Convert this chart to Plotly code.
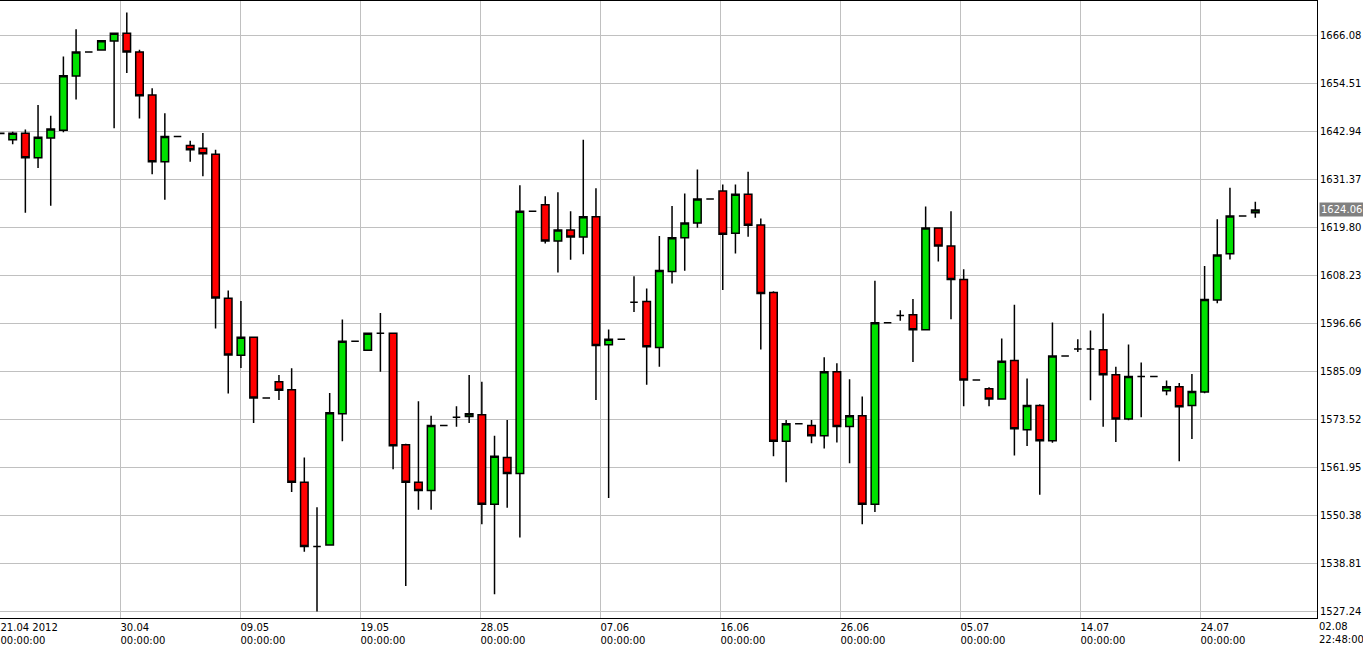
import plotly.graph_objects as go

opens = [1642.6, 1641.04, 1642.56, 1636.68, 1641.42, 1643.32, 1656.41, 1662.19, 1662.67, 1664.85,
         1666.74, 1662.19, 1651.85, 1635.73, 1641.80, 1639.62, 1638.96, 1637.53, 1602.73, 1588.97,
         1593.34, 1578.64, 1582.62, 1580.63, 1558.34, 1542.79, 1543.17, 1574.84, 1592.39, 1590.21,
         1594.29, 1594.29, 1567.35, 1558.34, 1556.35, 1572.00, 1573.99, 1574.18, 1574.65, 1553.03,
         1564.32, 1560.43, 1623.78, 1625.30, 1616.57, 1619.23, 1617.52, 1622.45, 1591.54, 1592.86,
         1601.78, 1601.97, 1590.87, 1609.18, 1617.33, 1620.94, 1626.72, 1628.62, 1618.47, 1627.86,
         1620.46, 1604.15, 1568.21, 1572.47, 1572.00, 1569.53, 1585.00, 1571.81, 1574.37, 1553.03,
         1596.85, 1598.56, 1598.74, 1595.14, 1619.70, 1615.34, 1607.28, 1583.00, 1580.91, 1578.45,
         1587.72, 1571.03, 1576.86, 1568.36, 1588.81, 1590.49, 1590.49, 1590.29, 1584.27, 1573.59,
         1583.87, 1583.87, 1580.41, 1581.40, 1576.86, 1580.12, 1602.35, 1613.51, 1622.60, 1623.40]
highs = [1642.75, 1642.94, 1643.51, 1649.39, 1646.83, 1661.15, 1667.69, 1662.30, 1664.94, 1666.74,
         1671.77, 1662.76, 1653.47, 1647.40, 1641.80, 1640.76, 1642.66, 1638.58, 1604.62, 1602.06,
         1593.34, 1578.64, 1584.23, 1585.84, 1564.32, 1552.27, 1579.87, 1597.61, 1592.39, 1594.29,
         1599.22, 1594.29, 1567.64, 1577.88, 1574.37, 1572.00, 1576.65, 1584.23, 1582.62, 1569.53,
         1573.33, 1630.04, 1623.78, 1627.39, 1628.33, 1623.78, 1641.04, 1629.28, 1595.23, 1592.86,
         1608.04, 1605.10, 1617.81, 1625.01, 1628.05, 1633.83, 1626.72, 1630.23, 1630.23, 1633.27,
         1621.98, 1604.43, 1573.33, 1572.47, 1573.33, 1588.50, 1587.08, 1583.19, 1579.02, 1607.00,
         1596.85, 1599.88, 1602.54, 1624.92, 1619.70, 1623.78, 1609.75, 1583.00, 1581.29, 1593.05,
         1601.16, 1583.38, 1577.15, 1596.91, 1588.81, 1592.86, 1594.94, 1599.09, 1586.24, 1591.58,
         1587.23, 1583.87, 1582.88, 1582.29, 1584.46, 1610.55, 1621.81, 1629.42, 1622.60, 1626.06]
lows = [1642.37, 1639.91, 1623.40, 1634.21, 1625.11, 1642.85, 1650.72, 1662.10, 1662.67, 1643.79,
        1657.16, 1646.16, 1632.70, 1626.53, 1641.80, 1635.73, 1632.22, 1595.42, 1579.78, 1585.94,
        1572.66, 1578.64, 1578.16, 1555.97, 1541.56, 1527.14, 1543.17, 1568.21, 1592.39, 1590.21,
        1585.00, 1561.47, 1533.30, 1551.70, 1551.70, 1572.00, 1571.72, 1572.66, 1548.19, 1531.31,
        1552.18, 1544.97, 1623.78, 1616.00, 1608.99, 1612.02, 1613.35, 1578.16, 1554.55, 1592.86,
        1599.41, 1581.86, 1586.22, 1606.33, 1609.37, 1619.80, 1626.72, 1604.72, 1613.54, 1617.62,
        1590.40, 1564.60, 1558.34, 1572.47, 1567.73, 1566.50, 1567.92, 1562.89, 1548.19, 1551.14,
        1596.85, 1597.32, 1587.36, 1595.14, 1611.64, 1597.70, 1576.65, 1583.00, 1576.65, 1578.45,
        1564.80, 1567.07, 1555.32, 1567.86, 1588.81, 1589.80, 1578.14, 1571.72, 1568.06, 1573.30,
        1573.99, 1583.87, 1579.33, 1563.42, 1568.75, 1579.82, 1601.56, 1612.13, 1622.60, 1622.21]
closes = [1642.5, 1642.56, 1636.68, 1641.61, 1643.60, 1656.50, 1662.19, 1662.19, 1664.94, 1666.74,
          1662.19, 1651.66, 1635.73, 1641.80, 1641.80, 1638.58, 1637.63, 1602.82, 1589.07, 1593.34,
          1578.64, 1578.64, 1580.53, 1558.34, 1542.79, 1542.79, 1575.13, 1592.39, 1592.39, 1594.29,
          1594.29, 1567.16, 1558.34, 1556.35, 1572.00, 1572.00, 1573.99, 1574.84, 1553.03, 1564.60,
          1560.43, 1623.78, 1623.78, 1616.57, 1619.23, 1617.52, 1622.45, 1591.35, 1592.86, 1592.86,
          1601.78, 1591.06, 1609.46, 1617.33, 1620.94, 1626.72, 1626.72, 1618.19, 1627.86, 1620.37,
          1603.87, 1568.21, 1572.47, 1572.47, 1569.53, 1585.00, 1571.81, 1574.37, 1553.03, 1596.85,
          1596.85, 1598.56, 1595.14, 1619.70, 1615.34, 1607.28, 1583.00, 1583.00, 1578.45, 1587.55,
          1571.22, 1576.86, 1568.36, 1588.81, 1588.81, 1590.49, 1590.49, 1584.27, 1573.59, 1583.87,
          1583.87, 1583.87, 1581.40, 1576.56, 1580.22, 1602.45, 1613.22, 1622.60, 1622.60, 1624.06]

date_labels = ["21.04 2012", "30.04", "09.05", "19.05", "28.05", "07.06",
               "16.06", "26.06", "05.07", "14.07", "24.07"]
price_ticks = [1527.24, 1538.81, 1550.38, 1561.95, 1573.52, 1585.09, 1596.66,
               1608.23, 1619.80, 1631.37, 1642.94, 1654.51, 1666.08]
last_price = 1624.06

# bars per date grid step
step = 120 / 12.68
xs = list(range(len(opens)))

fig = go.Figure(go.Candlestick(
    x=xs, open=opens, high=highs, low=lows, close=closes,
    increasing=dict(fillcolor="#00e000", line=dict(color="black", width=1.5)),
    decreasing=dict(fillcolor="#ff0000", line=dict(color="black", width=1.5)),
    whiskerwidth=0, showlegend=False, hoverinfo="skip",
))

font = dict(family="DejaVu Sans", size=10, color="black")
fig.update_layout(
    width=1363, height=647,
    margin=dict(l=0, r=46, t=1, b=29),
    paper_bgcolor="white", plot_bgcolor="white",
    font=font, boxgap=0.15,
    xaxis=dict(
        range=[0, 1317 / 12.68],
        tickvals=[k * step for k in range(len(date_labels))],
        ticktext=[d + "<br>00:00:00" for d in date_labels],
        ticklabelposition="outside right",
        showgrid=True, gridcolor="#c0c0c0", gridwidth=1,
        showline=True, linecolor="black", linewidth=1, mirror=True,
        ticks="", zeroline=False, rangeslider=dict(visible=False),
        fixedrange=True,
    ),
    yaxis=dict(
        side="right", range=[1525.55, 1674.52],
        tickvals=price_ticks, ticktext=[f"{v:.2f}" for v in price_ticks],
        showgrid=True, gridcolor="#c0c0c0", gridwidth=1,
        showline=True, linecolor="black", linewidth=1, mirror=True,
        ticks="", zeroline=False, fixedrange=True,
    ),
    annotations=[
        dict(xref="paper", yref="y", x=1.0, y=last_price, xanchor="left",
             text=f"{last_price:.2f}", showarrow=False, bgcolor="#808080",
             font=dict(family="DejaVu Sans", size=10, color="white"), borderpad=1, xshift=2),
        dict(xref="paper", yref="paper", x=1.0, y=0, xanchor="left", yanchor="top",
             text="02.08<br>22:48:00", showarrow=False, align="left", font=font, yshift=-1),
    ],
)

fig.write_html("out.html", config={"displayModeBar": False},
               post_script="document.body.style.margin='0';")
